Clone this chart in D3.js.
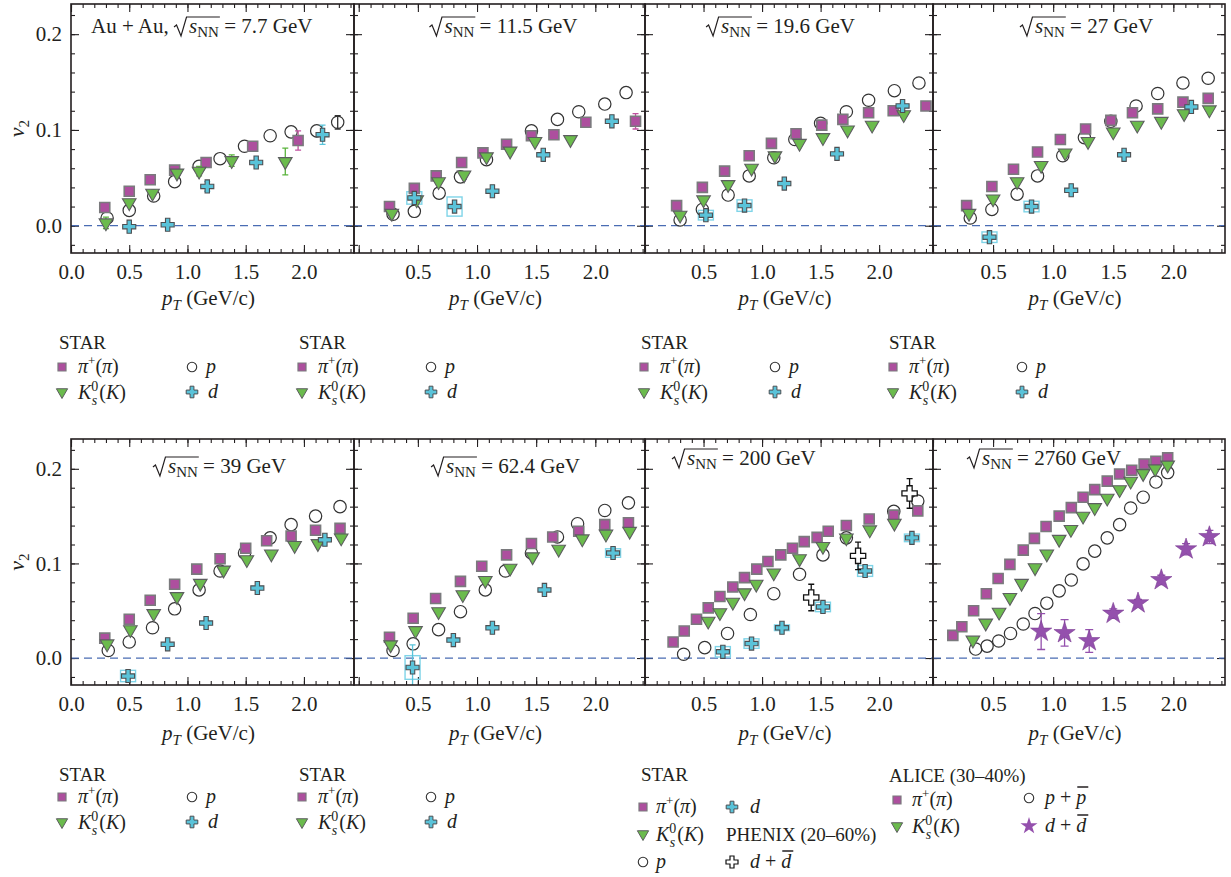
<!DOCTYPE html>
<html>
<head>
<meta charset="utf-8">
<script src="https://cdn.jsdelivr.net/npm/d3@7"></script>
<style>
  body { margin: 0; background: #fff; }
  svg, svg text { font-family: "Liberation Serif", "DejaVu Serif", serif; }
  svg { display: block; }
</style>
</head>
<body>
<svg id="chart" width="1231" height="877"></svg>
<script>
// ---- data: [pT, v2, statErr] ----
const pi_7p7 = [[0.29,0.019],[0.50,0.036],[0.68,0.048],[0.89,0.058],[1.16,0.066],[1.56,0.083],[1.95,0.089,0.010]];
const k_7p7 = [[0.30,0.003,0.006],[0.50,0.024],[0.70,0.034],[0.91,0.055],[1.10,0.057,0.005],[1.38,0.068,0.006],[1.84,0.067,0.014]];
const p_7p7 = [[0.31,0.008],[0.50,0.016],[0.71,0.031],[0.89,0.046],[1.10,0.062],[1.28,0.070],[1.49,0.083],[1.71,0.094],[1.89,0.098],[2.11,0.099],[2.29,0.108,0.007]];
const d_7p7 = [[0.50,-0.001],[0.83,0.001],[1.17,0.041,0.005],[1.59,0.066],[2.16,0.095,0.010]];

const pi_11p5 = [[0.26,0.020],[0.47,0.039],[0.655,0.052],[0.87,0.066],[1.05,0.076],[1.25,0.085],[1.46,0.094],[1.65,0.095],[1.92,0.108],[2.34,0.109,0.008]];
const k_11p5 = [[0.28,0.013],[0.49,0.027],[0.675,0.046],[0.89,0.053],[1.08,0.072],[1.28,0.078],[1.49,0.088],[1.79,0.090]];
const p_11p5 = [[0.29,0.012],[0.47,0.015],[0.68,0.034],[0.86,0.051],[1.08,0.069],[1.46,0.099],[1.68,0.111],[1.86,0.119],[2.08,0.127],[2.26,0.139]];
const d_11p5 = [[0.47,0.029],[0.81,0.020],[1.13,0.036],[1.56,0.074],[2.14,0.109]];
const dSys_11p5 = [[0.47,0.029,0.0065],[0.81,0.020,0.010]];

const pi_19p6 = [[0.27,0.021],[0.49,0.040],[0.68,0.057],[0.89,0.073],[1.08,0.086],[1.29,0.096],[1.51,0.105],[1.69,0.111],[1.91,0.118],[2.12,0.120],[2.40,0.125]];
const k_19p6 = [[0.30,0.011],[0.50,0.027],[0.71,0.043],[0.91,0.060],[1.11,0.073],[1.32,0.086],[1.52,0.092],[1.73,0.100],[1.94,0.105],[2.21,0.116]];
const p_19p6 = [[0.30,0.006],[0.49,0.017],[0.71,0.032],[0.89,0.052],[1.10,0.071],[1.28,0.090],[1.50,0.107],[1.72,0.119],[1.91,0.131],[2.13,0.141],[2.34,0.149]];
const d_19p6 = [[0.52,0.011],[0.85,0.021],[1.19,0.044],[1.64,0.075],[2.20,0.125]];
const dSys_19p6 = [[0.52,0.011,0.005],[0.85,0.021,0.006]];

const pi_27 = [[0.28,0.021],[0.49,0.041],[0.67,0.059],[0.87,0.077],[1.06,0.090],[1.27,0.101],[1.48,0.110],[1.66,0.118],[1.87,0.122],[2.08,0.129],[2.29,0.133]];
const k_27 = [[0.30,0.013],[0.50,0.028],[0.70,0.046],[0.90,0.063],[1.10,0.076],[1.29,0.088],[1.50,0.098],[1.70,0.105],[1.90,0.109],[2.09,0.117],[2.30,0.121]];
const p_27 = [[0.31,0.008],[0.49,0.017],[0.70,0.033],[0.87,0.052],[1.08,0.073],[1.26,0.092],[1.48,0.109],[1.69,0.125],[1.87,0.138],[2.08,0.149],[2.29,0.154]];
const d_27 = [[0.47,-0.012],[0.82,0.020],[1.15,0.037],[1.59,0.074],[2.15,0.124]];
const dSys_27 = [[0.47,-0.012,0.0055],[0.82,0.020,0.0055]];

const pi_39 = [[0.29,0.021],[0.50,0.041],[0.68,0.061],[0.89,0.078],[1.08,0.094],[1.28,0.105],[1.50,0.116],[1.68,0.124],[1.89,0.129],[2.10,0.135],[2.31,0.137]];
const k_39 = [[0.31,0.015],[0.51,0.030],[0.71,0.047],[0.91,0.065],[1.11,0.079],[1.31,0.093],[1.51,0.104],[1.72,0.110],[1.92,0.119],[2.12,0.121],[2.32,0.127]];
const p_39 = [[0.32,0.008],[0.50,0.017],[0.70,0.032],[0.89,0.052],[1.10,0.072],[1.28,0.092],[1.49,0.111],[1.71,0.127],[1.89,0.141],[2.10,0.150],[2.31,0.160]];
const d_39 = [[0.49,-0.019],[0.83,0.0145],[1.16,0.037],[1.60,0.074],[2.18,0.125]];
const dSys_39 = [[0.49,-0.019,0.006]];

const pi_62p4 = [[0.26,0.022],[0.46,0.042],[0.65,0.063],[0.86,0.081],[1.04,0.097],[1.25,0.109],[1.46,0.121],[1.64,0.128],[1.86,0.134],[2.08,0.141],[2.28,0.143]];
const k_62p4 = [[0.27,0.014],[0.48,0.029],[0.675,0.049],[0.88,0.067],[1.07,0.082],[1.28,0.095],[1.47,0.107],[1.69,0.115],[1.89,0.126],[2.09,0.131],[2.29,0.134]];
const p_62p4 = [[0.29,0.008],[0.46,0.015],[0.675,0.030],[0.86,0.049],[1.07,0.072],[1.24,0.092],[1.46,0.111],[1.68,0.128],[1.85,0.142],[2.08,0.156],[2.28,0.164]];
const d_62p4 = [[0.455,-0.010,0.024],[0.80,0.019],[1.13,0.032],[1.57,0.072],[2.15,0.111]];
const dSys_62p4 = [[0.455,-0.010,0.0125],[2.15,0.111,0.0045]];

const pi_200 = [[0.24,0.017],[0.335,0.0285],[0.44,0.041],[0.54,0.053],[0.64,0.065],[0.75,0.075],[0.85,0.085],[0.955,0.094],[1.05,0.102],[1.16,0.109],[1.26,0.116],[1.36,0.123],[1.47,0.1275],[1.565,0.134],[1.72,0.140],[1.915,0.147],[2.125,0.151],[2.33,0.1555]];
const k_200 = [[0.54,0.039],[0.64,0.048],[0.75,0.059],[0.85,0.069],[0.95,0.078],[1.10,0.090],[1.32,0.105],[1.52,0.118],[1.72,0.127],[1.92,0.1355],[2.13,0.1425]];
const p_200 = [[0.33,0.004],[0.51,0.011],[0.705,0.026],[0.90,0.046],[1.10,0.068],[1.32,0.0885],[1.52,0.109],[1.72,0.127],[2.125,0.155],[2.33,0.166]];
const d_200 = [[0.665,0.0066],[0.91,0.0153],[1.17,0.032],[1.52,0.054],[1.88,0.092],[2.28,0.127]];
const dSys_200 = [[0.665,0.0066,0.0055],[0.91,0.0153,0.005],[1.17,0.032,0.003],[1.52,0.054,0.005],[1.88,0.092,0.0057],[2.28,0.127,0.004]];
const phenixD_200 = [[1.42,0.064,0.014],[1.82,0.108,0.0145],[2.26,0.174,0.0157]];

const pi_2760 = [[0.165,0.024],[0.24,0.033],[0.338,0.050],[0.444,0.068],[0.542,0.084],[0.64,0.099],[0.751,0.114],[0.844,0.1265],[0.941,0.139],[1.05,0.150],[1.151,0.159],[1.249,0.170],[1.346,0.178],[1.45,0.187],[1.553,0.1945],[1.654,0.1985],[1.757,0.205],[1.855,0.208],[1.953,0.2115]];
const k_2760 = [[0.332,0.019],[0.439,0.037],[0.55,0.0485],[0.64,0.064],[0.737,0.079],[0.849,0.0955],[0.947,0.110],[1.05,0.1255],[1.148,0.136],[1.249,0.150],[1.346,0.159],[1.45,0.169],[1.553,0.178],[1.645,0.187],[1.749,0.195],[1.849,0.200],[1.953,0.204]];
const p_2760 = [[0.355,0.0095],[0.45,0.0126],[0.547,0.018],[0.645,0.026],[0.751,0.036],[0.849,0.047],[0.947,0.058],[1.05,0.071],[1.151,0.0825],[1.249,0.0995],[1.346,0.113],[1.45,0.127],[1.553,0.141],[1.645,0.1585],[1.749,0.170],[1.855,0.186],[1.953,0.196]];
const aliceD_2760 = [[0.90,0.028,0.019],[1.095,0.0265,0.014],[1.30,0.018,0.012],[1.50,0.047,0.005],[1.706,0.058,0.004],[1.90,0.0825,0.005],[2.106,0.115,0.006],[2.30,0.128,0.007]];

const energies = ["7.7", "11.5", "19.6", "27", "39", "62.4", "200", "2760"];
const xMajorTicks = [0, 0.5, 1.0, 1.5, 2.0];
const xMinorTicks = d3.range(0, 2.45, 0.1);
const yMajorTicks = [0, 0.1, 0.2];
const yMinorTicks = d3.range(-0.02, 0.23, 0.02);

// ---- layout ----
const ink = "#231f20";
const colLayout = [
    { left: 71, right: 354, xDomain: [0, 2.43] },
    { left: 354, right: 645, xDomain: [-0.04, 2.42] },
    { left: 645, right: 933, xDomain: [0, 2.46] },
    { left: 933, right: 1225, xDomain: [0, 2.43] },
];
const rowLayout = [{ top: 4, bottom: 253, xLabelY: 305 }, { top: 439, bottom: 685, xLabelY: 740 }];
const yDomain = [-0.0285, 0.2315];

const titlePos = [
    { x: 91, y: 33, anchor: "start", prefix: "Au + Au, " },
    { x: 496, y: 33, anchor: "middle" },
    { x: 773, y: 33, anchor: "middle" },
    { x: 1079, y: 33, anchor: "middle" },
    { x: 212, y: 473, anchor: "middle" },
    { x: 498, y: 473, anchor: "middle" },
    { x: 672, y: 465, anchor: "start" },
    { x: 967, y: 465, anchor: "start" },
];

const panels = [
    { pi: pi_7p7, k: k_7p7, p: p_7p7, d: d_7p7, sys: [] },
    { pi: pi_11p5, k: k_11p5, p: p_11p5, d: d_11p5, sys: dSys_11p5 },
    { pi: pi_19p6, k: k_19p6, p: p_19p6, d: d_19p6, sys: dSys_19p6 },
    { pi: pi_27, k: k_27, p: p_27, d: d_27, sys: dSys_27 },
    { pi: pi_39, k: k_39, p: p_39, d: d_39, sys: dSys_39 },
    { pi: pi_62p4, k: k_62p4, p: p_62p4, d: d_62p4, sys: dSys_62p4 },
    { pi: pi_200, k: k_200, p: p_200, d: d_200, sys: dSys_200, phenix: phenixD_200 },
    { pi: pi_2760, k: k_2760, p: p_2760, star: aliceD_2760, sys: [] },
];

// marker styles
const styles = {
    pi: { type: d3.symbolSquare, size: 100, fill: "#ad4f9e", stroke: "#7a7a7d", sw: 1.6, err: "#c0509f" },
    k: { type: d3.symbolTriangle, size: 80, fill: "#6bbb4d", stroke: "#5d5e60", sw: 1.1, err: "#5ab43c", rotate: true },
    p: { type: d3.symbolCircle, size: 120, fill: "none", stroke: "#333", sw: 1.2, err: "#333" },
    d: { type: d3.symbolCross, size: 95, fill: "#5ac3d9", stroke: "#4d4f52", sw: 1.1, err: "#5ac3d9" },
    phenix: { type: d3.symbolCross, size: 130, fill: "#fff", stroke: "#111", sw: 1.3, err: "#111" },
    star: { type: d3.symbolStar, size: 140, fill: "#9450ad", stroke: "#7a3d92", sw: 0.6, err: "#9450ad", cap: 4 },
};

const svg = d3.select("#chart");

const drawMarks = (g, x, y, data, st) => {
    const cap = st.cap || 3;
    g.append("g").selectAll("path")
        .data(data.filter(d => d[2]))
        .join("path")
        .attr("d", d => {
            const X = x(d[0]), y1 = y(d[1] + d[2]), y2 = y(d[1] - d[2]);
            return `M${X - cap},${y1}H${X + cap}M${X},${y1}V${y2}M${X - cap},${y2}H${X + cap}`;
        })
        .attr("fill", "none")
        .attr("stroke", st.err)
        .attr("stroke-width", 1.3);
    const sym = d3.symbol().type(st.type).size(st.size);
    g.append("g").selectAll("path")
        .data(data)
        .join("path")
        .attr("d", sym)
        .attr("transform", d => `translate(${x(d[0])},${y(d[1])})${st.rotate ? " rotate(180)" : ""}`)
        .attr("fill", st.fill)
        .attr("stroke", st.stroke)
        .attr("stroke-width", st.sw);
};

// radical sqrt(s_NN) title
const drawTitle = (g, t, energy) => {
    const prefix = t.prefix || "";
    const txt = g.append("text")
        .attr("x", t.x).attr("y", t.y)
        .attr("text-anchor", t.anchor)
        .attr("font-size", 21)
        .attr("fill", ink);
    if (prefix) txt.append("tspan").text(prefix);
    txt.append("tspan").attr("dx", 15).attr("font-style", "italic").text("s");
    txt.append("tspan").attr("dy", 4).attr("font-size", 15).text("NN");
    txt.append("tspan").attr("dy", -4).text(` = ${energy} GeV`);
    const n = txt.node(), i = prefix.length;
    const sx = n.getStartPositionOfChar(i).x;
    const ex = n.getEndPositionOfChar(i + 2).x;
    const yb = t.y;
    g.append("path")
        .attr("d", `M${sx - 15},${yb - 6} L${sx - 12.5},${yb - 8} L${sx - 8},${yb + 3} L${sx - 2.5},${yb - 16} H${ex + 1}`)
        .attr("fill", "none")
        .attr("stroke", ink)
        .attr("stroke-width", 1.2);
};

panels.forEach((pan, idx) => {
    const col = colLayout[idx % 4], row = rowLayout[Math.floor(idx / 4)];
    const x = d3.scaleLinear().domain(col.xDomain).range([col.left, col.right]);
    const y = d3.scaleLinear().domain(yDomain).range([row.bottom, row.top]);
    const g = svg.append("g");
    const clipId = `clip${idx}`;
    g.append("clipPath").attr("id", clipId)
        .append("rect")
        .attr("x", col.left).attr("y", row.top)
        .attr("width", col.right - col.left).attr("height", row.bottom - row.top);

    // axes (ticks inward on all four sides)
    const fmt = v => (idx % 4 === 0 || v > 0) ? d3.format(".1f")(v) : "";
    const axes = [
        [d3.axisBottom(x).tickValues(xMajorTicks).tickSize(-8).tickPadding(11).tickFormat(fmt), `translate(0,${row.bottom})`],
        [d3.axisBottom(x).tickValues(xMinorTicks).tickSize(-4).tickFormat(""), `translate(0,${row.bottom})`],
        [d3.axisTop(x).tickValues(xMajorTicks).tickSize(-8).tickFormat(""), `translate(0,${row.top})`],
        [d3.axisTop(x).tickValues(xMinorTicks).tickSize(-4).tickFormat(""), `translate(0,${row.top})`],
        [d3.axisLeft(y).tickValues(yMajorTicks).tickSize(-8).tickPadding(9).tickFormat(idx % 4 === 0 ? d3.format(".1f") : ""), `translate(${col.left},0)`],
        [d3.axisLeft(y).tickValues(yMinorTicks).tickSize(-4).tickFormat(""), `translate(${col.left},0)`],
        [d3.axisRight(y).tickValues(yMajorTicks).tickSize(-8).tickFormat(""), `translate(${col.right},0)`],
        [d3.axisRight(y).tickValues(yMinorTicks).tickSize(-4).tickFormat(""), `translate(${col.right},0)`],
    ];
    axes.forEach(([ax, tr]) => {
        const a = g.append("g").attr("transform", tr).call(ax)
            .attr("font-family", null)
            .attr("font-size", 21);
        a.select(".domain").remove();
        a.selectAll(".tick line").attr("stroke", ink).attr("stroke-width", 1.1);
        a.selectAll("text").attr("fill", ink);
    });

    const plot = g.append("g").attr("clip-path", `url(#${clipId})`);

    // zero line
    plot.append("line")
        .attr("x1", col.left).attr("x2", col.right)
        .attr("y1", y(0)).attr("y2", y(0))
        .attr("stroke", "#4a6cb3")
        .attr("stroke-width", 1.3)
        .attr("stroke-dasharray", "8,5");

    // systematic boxes for d
    plot.append("g").selectAll("rect")
        .data(pan.sys)
        .join("rect")
        .attr("x", d => x(d[0]) - 7.5)
        .attr("width", 15)
        .attr("y", d => y(d[1] + d[2]))
        .attr("height", d => y(d[1] - d[2]) - y(d[1] + d[2]))
        .attr("fill", "none")
        .attr("stroke", "#7fd4e8")
        .attr("stroke-width", 1.4);

    drawMarks(plot, x, y, pan.p, styles.p);
    drawMarks(plot, x, y, pan.pi, styles.pi);
    drawMarks(plot, x, y, pan.k, styles.k);
    if (pan.d) drawMarks(plot, x, y, pan.d, styles.d);
    if (pan.phenix) drawMarks(plot, x, y, pan.phenix, styles.phenix);
    if (pan.star) drawMarks(plot, x, y, pan.star, styles.star);

    // frame
    g.append("rect")
        .attr("x", col.left).attr("y", row.top)
        .attr("width", col.right - col.left).attr("height", row.bottom - row.top)
        .attr("fill", "none")
        .attr("stroke", ink)
        .attr("stroke-width", 1.6);

    drawTitle(g, titlePos[idx], energies[idx]);

    // x axis title
    const xt = g.append("text")
        .attr("x", (col.left + col.right) / 2 - 4).attr("y", row.xLabelY)
        .attr("text-anchor", "middle")
        .attr("font-size", 21)
        .attr("fill", ink);
    xt.append("tspan").attr("font-style", "italic").text("p");
    xt.append("tspan").attr("dy", 5).attr("font-size", 15).attr("font-style", "italic").text("T");
    xt.append("tspan").attr("dy", -5).text(" (GeV/c)");

    if (idx % 4 === 0) {
        const cy = (row.top + row.bottom) / 2;
        const yt = g.append("text")
            .attr("transform", `translate(24,${cy}) rotate(-90)`)
            .attr("text-anchor", "middle")
            .attr("font-size", 22)
            .attr("fill", ink);
        yt.append("tspan").attr("font-style", "italic").text("v");
        yt.append("tspan").attr("dy", 5).attr("font-size", 15).text("2");
    }
});

// ---- legends ----
const legendMarks = {
    pi: { type: d3.symbolSquare, size: 64, fill: "#ad4f9e", stroke: "#7a7a7d", sw: 1.2 },
    k: { type: d3.symbolTriangle, size: 55, fill: "#6bbb4d", stroke: "#5d5e60", sw: 1, rotate: true },
    p: { type: d3.symbolCircle, size: 70, fill: "none", stroke: "#333", sw: 1.1 },
    d: { type: d3.symbolCross, size: 75, fill: "#5ac3d9", stroke: "#4d4f52", sw: 1 },
    phenix: { type: d3.symbolCross, size: 80, fill: "#fff", stroke: "#111", sw: 1.2 },
    star: { type: d3.symbolStar, size: 90, fill: "#9450ad", stroke: "none", sw: 0 },
};

const legendMarker = (x, y, key) => {
    const st = legendMarks[key];
    svg.append("path")
        .attr("d", d3.symbol().type(st.type).size(st.size))
        .attr("transform", `translate(${x},${y})${st.rotate ? " rotate(180)" : ""}`)
        .attr("fill", st.fill).attr("stroke", st.stroke).attr("stroke-width", st.sw);
};

const legendText = (x, y, build) => {
    const t = svg.append("text").attr("x", x).attr("y", y + 6)
        .attr("font-size", 20).attr("fill", ink);
    build(t);
    return t;
};

const overbar = (t, charIdx) => {
    const n = t.node();
    const a = n.getStartPositionOfChar(charIdx), b = n.getEndPositionOfChar(charIdx);
    svg.append("line")
        .attr("x1", a.x + 1).attr("x2", b.x + 2)
        .attr("y1", a.y - 17).attr("y2", a.y - 17)
        .attr("stroke", ink).attr("stroke-width", 1.5);
};

const piLabel = t => {
    t.append("tspan").attr("font-style", "italic").text("π");
    t.append("tspan").attr("dy", -8).attr("font-size", 13).text("+");
    t.append("tspan").attr("dy", 8).text("(");
    t.append("tspan").attr("font-style", "italic").text("π");
    t.append("tspan").text(")");
};
const kLabel = t => {
    t.append("tspan").attr("font-style", "italic").text("K");
    t.append("tspan").attr("dy", -8).attr("font-size", 14).text("0");
    t.append("tspan").attr("dx", -6.5).attr("dy", 14).attr("font-size", 14).attr("font-style", "italic").text("s");
    t.append("tspan").attr("dx", 2).attr("dy", -6).text("(");
    t.append("tspan").attr("font-style", "italic").text("K");
    t.append("tspan").text(")");
};
const italicLabel = s => t => t.append("tspan").attr("font-style", "italic").text(s);
const pairLabel = s => t => {
    t.append("tspan").attr("font-style", "italic").text(s);
    t.append("tspan").text(" + ");
    t.append("tspan").attr("font-style", "italic").text(s);
};

const starLegendX = [
    { x0: 59, m1: 62, m2: 192 },
    { x0: 299, m1: 302, m2: 431 },
    { x0: 641, m1: 644, m2: 775 },
    { x0: 889, m1: 893, m2: 1022 },
];
const legendRowsTop = { head: 349, r1: 367, r2: 392 };
const legendRowsBottom = { head: 781, r1: 797, r2: 822 };

const starLegend = (pos, rows) => {
    svg.append("text").attr("x", pos.x0).attr("y", rows.head).attr("font-size", 19).attr("fill", ink).text("STAR");
    legendMarker(pos.m1, rows.r1, "pi");
    legendText(pos.m1 + 16, rows.r1, piLabel);
    legendMarker(pos.m1, rows.r2, "k");
    legendText(pos.m1 + 16, rows.r2 + 1, kLabel);
    legendMarker(pos.m2, rows.r1, "p");
    legendText(pos.m2 + 14, rows.r1, italicLabel("p"));
    legendMarker(pos.m2, rows.r2, "d");
    legendText(pos.m2 + 16, rows.r2, italicLabel("d"));
};

starLegendX.forEach(pos => starLegend(pos, legendRowsTop));
starLegend(starLegendX[0], legendRowsBottom);
starLegend(starLegendX[1], legendRowsBottom);

// STAR + PHENIX legend (200 GeV)
svg.append("text").attr("x", 641).attr("y", 781).attr("font-size", 19).attr("fill", ink).text("STAR");
legendMarker(643, 807, "pi");
legendText(656, 807, piLabel);
legendMarker(643, 834, "k");
legendText(656, 835, kLabel);
legendMarker(643, 862, "p");
legendText(656, 862, italicLabel("p"));
legendMarker(732, 807, "d");
legendText(750, 807, italicLabel("d"));
svg.append("text").attr("x", 726).attr("y", 841).attr("font-size", 19).attr("fill", ink).text("PHENIX (20–60%)");
legendMarker(732, 862, "phenix");
overbar(legendText(750, 862, pairLabel("d")), 4);

// ALICE legend (2760 GeV)
svg.append("text").attr("x", 889).attr("y", 782).attr("font-size", 19).attr("fill", ink).text("ALICE (30–40%)");
legendMarker(897, 800, "pi");
legendText(912, 800, piLabel);
legendMarker(897, 826, "k");
legendText(912, 827, kLabel);
legendMarker(1029, 798, "p");
overbar(legendText(1045, 798, pairLabel("p")), 4);
legendMarker(1029, 826, "star");
overbar(legendText(1045, 826, pairLabel("d")), 4);
</script>
</body>
</html>
